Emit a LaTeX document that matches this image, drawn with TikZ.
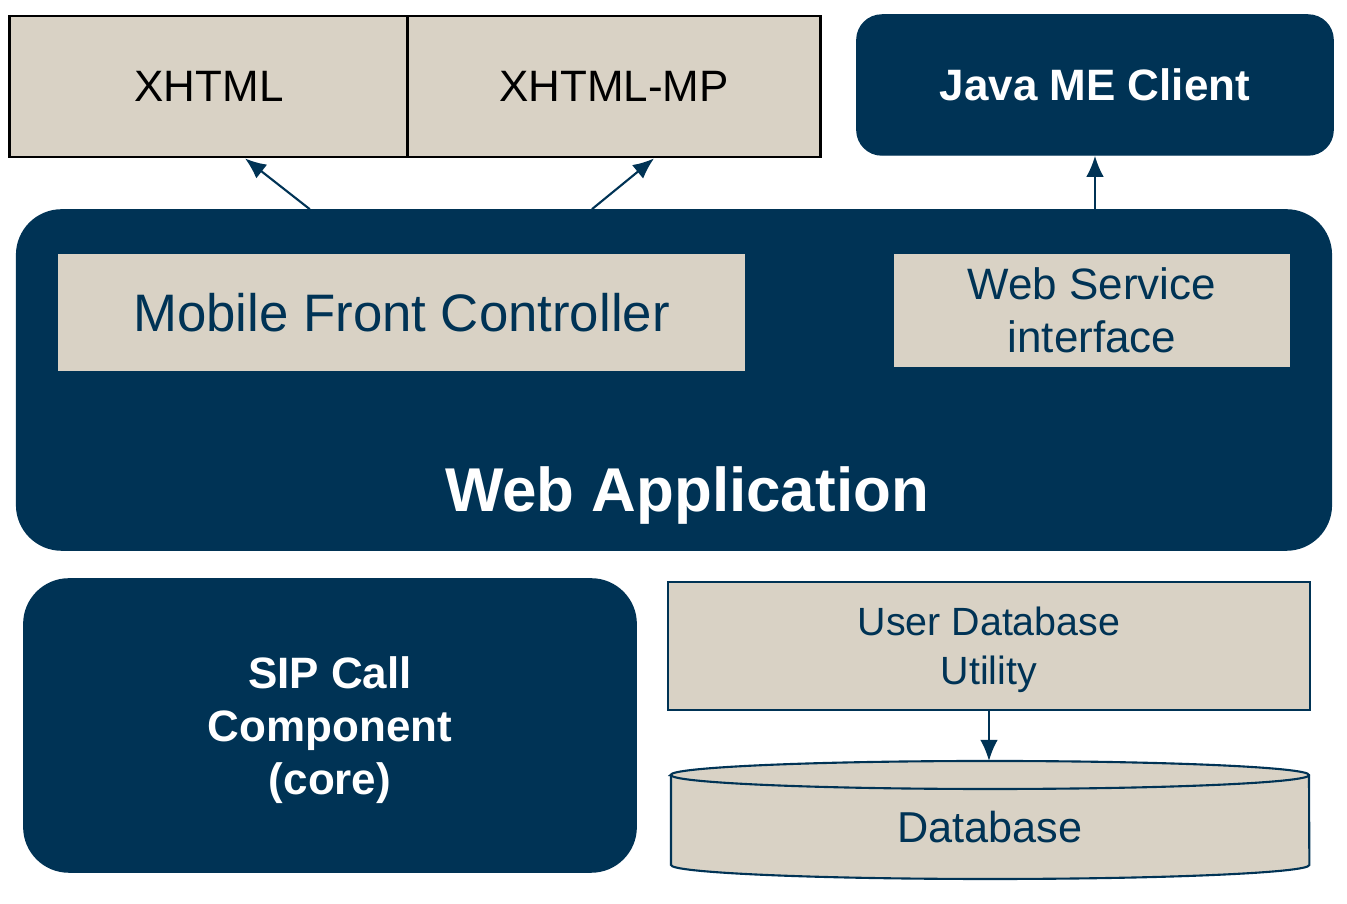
\documentclass[tikz,border=0pt]{standalone}
\usepackage{fontspec}
\setmainfont{Liberation Sans}
\usetikzlibrary{arrows.meta}
\definecolor{navy}{RGB}{0,51,85}
\definecolor{sand}{RGB}{217,210,197}
\tikzset{
  sandbox/.style={fill=sand,text=navy,align=center,inner sep=0pt},
  navybox/.style={fill=navy,draw=navy,text=white,align=center,inner sep=0pt,font=\bfseries\fontsize{12.5}{15}\selectfont},
  link/.style={draw=navy,line width=0.6pt,-{Latex[length=6pt,width=5pt]}}
}
\begin{document}
\begin{tikzpicture}[x=0.01cm,y=-0.01cm]
\useasboundingbox (0,0) rectangle (1347,904);
\node[sandbox,draw=black,line width=0.8pt,text=black,minimum width=3.98cm,minimum height=1.41cm,font=\fontsize{12.5}{15}\selectfont] (xhtml) at (209,86.5) {XHTML};
\node[sandbox,draw=black,line width=0.8pt,text=black,minimum width=4.12cm,minimum height=1.41cm,font=\fontsize{12.5}{15}\selectfont] (xhtmlmp) at (614,86.5) {XHTML-MP};
\node[navybox,rounded corners=0.25cm,minimum width=4.76cm,minimum height=1.4cm] (java) at (1095,85) {Java ME Client};
\node[navybox,rounded corners=0.45cm,minimum width=13.14cm,minimum height=3.4cm] (webapp) at (674,380) {};
\node[text=white,font=\bfseries\fontsize{17.6}{20}\selectfont,anchor=base] (webapplabel) at (687,512) {Web Application};
\node[sandbox,minimum width=6.87cm,minimum height=1.17cm,font=\fontsize{15}{18}\selectfont] (mfc) at (401.5,312.5) {Mobile Front Controller};
\node[sandbox,minimum width=3.96cm,minimum height=1.13cm,font=\fontsize{12.5}{15}\selectfont] (wsi) at (1092,310.5) {Web Service\\interface};
\node[navybox,rounded corners=0.45cm,minimum width=6.12cm,minimum height=2.93cm,text depth=0pt] (sip) at (330,725.5) {SIP Call\\Component\\(core)};
\node[sandbox,draw=navy,line width=0.6pt,minimum width=6.42cm,minimum height=1.28cm,text depth=0pt,font=\fontsize{11.2}{14}\selectfont] (udu) at (989,646) {User Database\\Utility};
% cylinder
\filldraw[fill=sand,draw=navy,line width=0.6pt] (671,775) -- (671,865) arc[start angle=180,end angle=360,x radius=3.19cm,y radius=0.14cm] -- (1309,775) arc[start angle=0,end angle=180,x radius=3.19cm,y radius=0.14cm] -- cycle;
\draw[navy,line width=0.6pt] (671,775) arc[start angle=180,end angle=360,x radius=3.19cm,y radius=0.14cm];
\coordinate (dbtop) at (990,761);
\node[text=navy,font=\fontsize{12.3}{15}\selectfont,anchor=base] (db) at (990,843) {Database};
\draw[link] ([xshift=-3.64cm]webapp.north) -- ([xshift=0.36cm]xhtml.south);
\draw[link] ([xshift=-0.82cm]webapp.north) -- ([xshift=0.40cm]xhtmlmp.south);
\draw[link] (java.south |- webapp.north) -- (java.south);
\draw[link] (udu.south) -- (udu.south |- dbtop);
\end{tikzpicture}
\end{document}
